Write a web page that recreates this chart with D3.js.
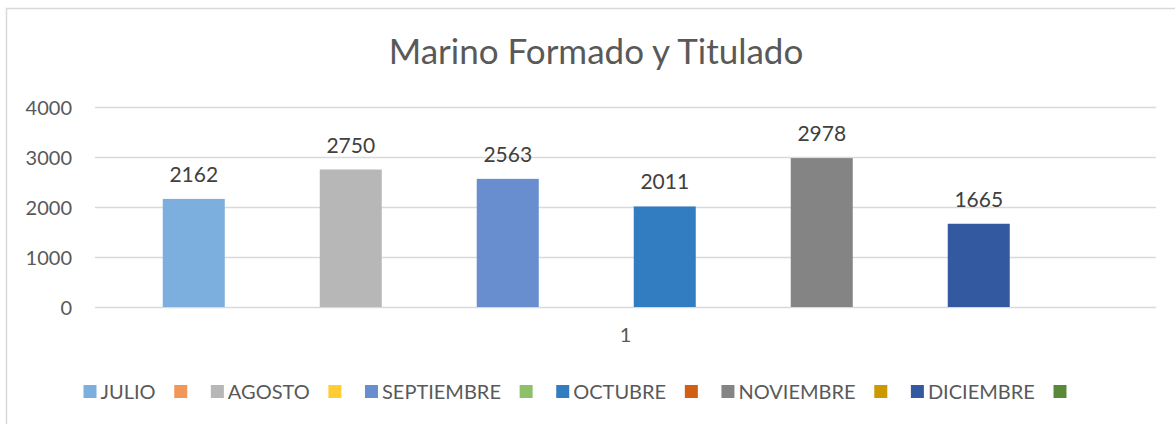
<!DOCTYPE html>
<html>
<head>
<meta charset="utf-8">
<script src="https://cdn.jsdelivr.net/npm/d3@7"></script>
<style>
  html, body { margin: 0; padding: 0; background: #fff; }
  svg { display: block; }
  text { font-family: Lato, "Open Sans", sans-serif; }
</style>
</head>
<body>
<svg id="chart" width="1175" height="424"></svg>
<script>
// ---- data ----
const title = "Marino Formado y Titulado";
const categories = ["1"];
const seriesNames = ["JULIO", "", "AGOSTO", "", "SEPTIEMBRE", "", "OCTUBRE", "", "NOVIEMBRE", "", "DICIEMBRE", ""];
const seriesValues = [2162, null, 2750, null, 2563, null, 2011, null, 2978, null, 1665, null];
const seriesColors = ["#7CAFDD", "#F1975A", "#B7B7B7", "#FFCD33", "#698ED0", "#8CC168",
                      "#327DC2", "#D26012", "#848484", "#CC9A00", "#335AA1", "#5A8A39"];
const yTicks = [0, 1000, 2000, 3000, 4000];

// ---- layout ----
const svg = d3.select("#chart");
const W = 1175, H = 424;
const plot = { left: 95, right: 1156, top: 107, bottom: 307 };

// chart border (extends beyond the visible area on right/bottom)
svg.append("rect")
  .attr("x", 6.5).attr("y", 8.5)
  .attr("width", W + 20).attr("height", H + 20)
  .attr("fill", "#fff").attr("stroke", "#D9D9D9").attr("stroke-width", 1.5);

// title
svg.append("text")
  .attr("x", 596).attr("y", 64)
  .attr("text-anchor", "middle")
  .attr("fill", "#595959")
  .attr("font-size", 35)
  .text(title);

// scales
const y = d3.scaleLinear().domain([0, 4000]).range([plot.bottom, plot.top]);
const x0 = d3.scaleBand().domain(categories).range([plot.left, plot.right]).padding(0);
const x1 = d3.scaleBand().domain(d3.range(seriesNames.length))
  .range([0, x0.bandwidth()])
  .paddingInner(0.21).paddingOuter(0.863);

// gridlines
svg.append("g").selectAll("line").data(yTicks).join("line")
  .attr("x1", plot.left).attr("x2", plot.right)
  .attr("y1", d => Math.round(y(d)) + 0.5).attr("y2", d => Math.round(y(d)) + 0.5)
  .attr("stroke", "#D9D9D9").attr("stroke-width", 1.5);

// y axis labels
const yAxis = d3.axisLeft(y).tickValues(yTicks).tickSize(0).tickPadding(0).tickFormat(d3.format("d"));
const gy = svg.append("g").attr("transform", `translate(72,0)`).call(yAxis);
gy.select(".domain").remove();
gy.selectAll("text").attr("font-size", 20).attr("fill", "#595959")
  .attr("font-family", "Lato, 'Open Sans', sans-serif").attr("dy", "0.35em");

// x axis label
const xAxis = d3.axisBottom(x0).tickSize(0).tickPadding(0);
const gx = svg.append("g").attr("transform", `translate(0,${plot.bottom + 21})`).call(xAxis);
gx.select(".domain").remove();
gx.selectAll("text").attr("font-size", 20).attr("fill", "#595959")
  .attr("font-family", "Lato, 'Open Sans', sans-serif").attr("dy", "0.71em");

// bars
const barData = seriesNames.map((n, i) => ({ i, name: n, value: seriesValues[i], color: seriesColors[i] }))
  .filter(d => d.value != null);
const gb = svg.append("g").attr("transform", `translate(${x0("1")},0)`);
gb.selectAll("rect").data(barData).join("rect")
  .attr("x", d => x1(d.i))
  .attr("width", x1.bandwidth())
  .attr("y", d => y(d.value))
  .attr("height", d => y(0) - y(d.value))
  .attr("fill", d => d.color);

// data labels
gb.selectAll("text").data(barData).join("text")
  .attr("x", d => x1(d.i) + x1.bandwidth() / 2)
  .attr("y", d => y(d.value) - 17)
  .attr("text-anchor", "middle")
  .attr("font-size", 21)
  .attr("fill", "#404040")
  .text(d => d3.format("d")(d.value));

// legend
const lg = svg.append("g");
const sw = 13, legendY = 385;
const items = lg.selectAll("g").data(seriesNames.map((n, i) => ({ name: n, color: seriesColors[i] }))).join("g");
items.append("rect").attr("width", sw).attr("height", sw).attr("y", legendY).attr("fill", d => d.color);
items.append("text").attr("x", sw + 4).attr("y", legendY + sw / 2).attr("dy", "0.36em")
  .attr("font-size", 20).attr("fill", "#595959").text(d => d.name);
let cx = 0;
items.each(function (d) {
  const tw = d.name ? d3.select(this).select("text").node().getComputedTextLength() : 0;
  d.x = cx;
  cx += d.name ? sw + 4 + tw + 18.7 : sw + 23.6;
});
const totalW = cx - 23.6;
const startX = 575 - totalW / 2;
items.attr("transform", d => `translate(${startX + d.x},0)`);
</script>
</body>
</html>
